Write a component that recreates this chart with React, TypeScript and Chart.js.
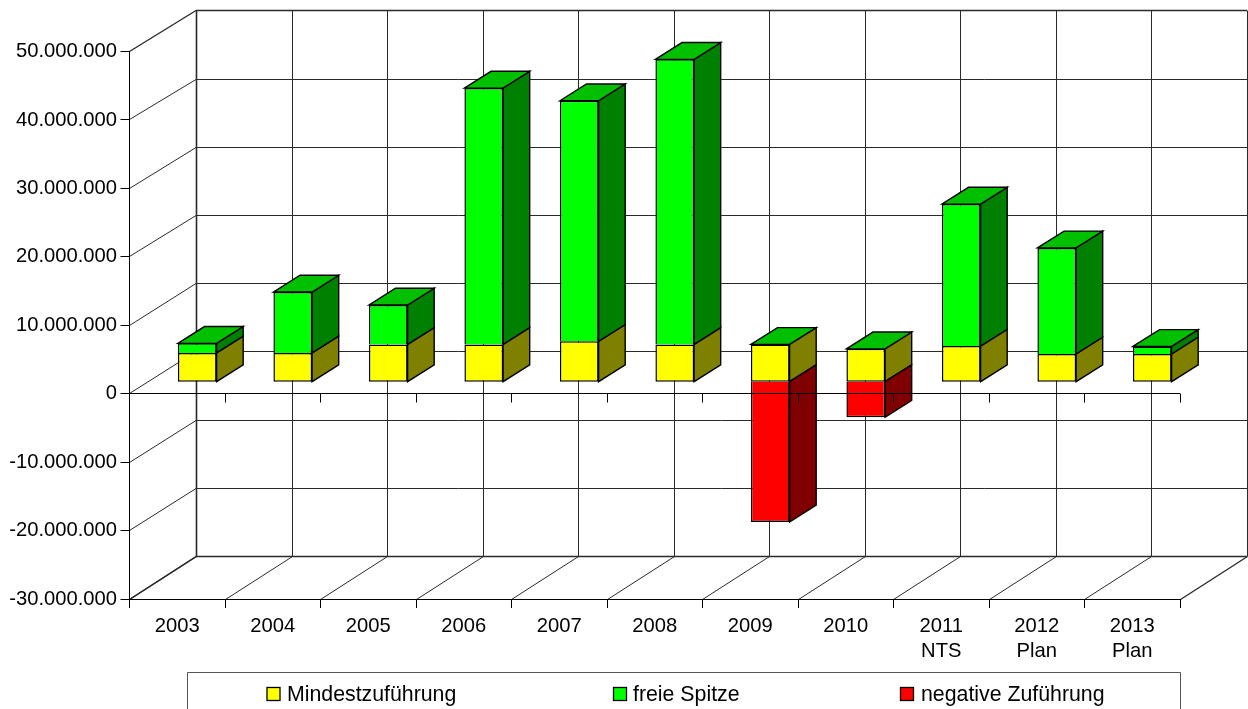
import React, { useEffect, useRef } from "react";
import { Chart, registerables } from "chart.js";

Chart.register(...registerables);

const categories: (string | string[])[] = [
  "2003", "2004", "2005", "2006", "2007", "2008", "2009", "2010",
  ["2011", "NTS"], ["2012", "Plan"], ["2013", "Plan"],
];
const mindestzufuehrung = [4.2e6, 4.2e6, 5.45e6, 5.45e6, 5.9e6, 5.45e6, 5.45e6, 4.8e6, 5.2e6, 4.05e6, 4.05e6];
const freieSpitze = [1.4e6, 8.9e6, 5.75e6, 37.45e6, 35.15e6, 41.65e6, null, null, 20.75e6, 15.5e6, 1.1e6];
const negativeZufuehrung = [null, null, null, null, null, null, -20.5e6, -5.2e6, null, null, null];
const seriesNames = ["Mindestzuführung", "freie Spitze", "negative Zuführung"];
const frontColors = ["#ffff00", "#00ff00", "#ff0000"];
const sideColors = ["#808000", "#008000", "#800000"];
const topColor = "#00c000";
const yTicks = { min: -30000000, max: 50000000, step: 10000000 };

const FONT = '"Liberation Sans", Arial, sans-serif';
const WALL_DX = 66.5;
const BAR_OX = 20;
const BAR_OY = 12;
const BAR_DX = 26.6;
const BAR_DY = 16.8;
const BAR_BORDERS = [
  { top: 1.5, left: 1.5, right: 1.5, bottom: 1.5 },
  { top: 1.5, left: 1.5, right: 1.5, bottom: 0 },
  { top: 0, left: 1.5, right: 1.5, bottom: 1.5 },
];
const LEGEND_ITEMS = [
  { square: 267, text: 287 },
  { square: 613.5, text: 633 },
  { square: 900.5, text: 921 },
];

const fmt = (v: number) => {
  const s = Math.abs(v).toString().replace(/\B(?=(\d{3})+(?!\d))/g, ".");
  return (v < 0 ? "-" : "") + s;
};
const snap = (v: number) => Math.round(v - 0.5) + 0.5;

function line(ctx: CanvasRenderingContext2D, x1: number, y1: number, x2: number, y2: number, w = 1) {
  ctx.lineWidth = w;
  ctx.beginPath();
  ctx.moveTo(x1, y1);
  ctx.lineTo(x2, y2);
  ctx.stroke();
}
function poly(ctx: CanvasRenderingContext2D, pts: number[][], fill: string) {
  ctx.beginPath();
  pts.forEach((p, i) => (i ? ctx.lineTo(p[0], p[1]) : ctx.moveTo(p[0], p[1])));
  ctx.closePath();
  ctx.fillStyle = fill;
  ctx.fill();
  ctx.strokeStyle = "#000";
  ctx.lineWidth = 1.4;
  ctx.stroke();
}

const box3d = {
  id: "box3d",
  beforeDraw(chart: any) {
    const { ctx } = chart;
    const x = chart.scales.x;
    const y = chart.scales.y;
    const left = snap(x.left);
    const right = snap(x.right);
    const bottom = snap(y.bottom);
    const n = categories.length;
    const backY = (py: number) => snap(py - 40.7 - (1.9 * (py - y.top)) / (y.bottom - y.top));
    const backTop = backY(y.top);
    const backBottom = backY(y.bottom);
    ctx.save();
    ctx.strokeStyle = "#2a2a2a";
    for (let v = yTicks.min; v <= yTicks.max; v += yTicks.step) {
      const py = snap(y.getPixelForValue(v));
      const by = backY(y.getPixelForValue(v));
      const edge = v === yTicks.min || v === yTicks.max;
      line(ctx, left, py, left + WALL_DX, by, edge ? 1.4 : 1);
      line(ctx, left + WALL_DX, by, right + WALL_DX, by, edge ? 1.6 : 1);
    }
    for (let i = 0; i <= n; i++) {
      const fx = snap(x.left + (i * (x.right - x.left)) / n);
      const bx = snap(fx + WALL_DX);
      line(ctx, fx, bottom, bx, backBottom, i === 0 || i === n ? 1.4 : 1);
      line(ctx, bx, backTop, bx, backBottom, i === 0 ? 1.6 : 1);
    }
    ctx.restore();
  },
  beforeDatasetsDraw(chart: any) {
    const { ctx } = chart;
    ctx.save();
    const tops: Record<number, any> = {};
    chart.data.datasets.forEach((ds: any, di: number) => {
      chart.getDatasetMeta(di).data.forEach((el: any, i: number) => {
        if (ds.data[i] == null) return;
        const { x, y, base, width } = el.getProps(["x", "y", "base", "width"], true);
        const r = x + width / 2 + BAR_OX;
        const t = Math.min(y, base) - BAR_OY;
        const b = Math.max(y, base) - BAR_OY;
        poly(ctx, [[r, t], [r + BAR_DX, t - BAR_DY], [r + BAR_DX, b - BAR_DY], [r, b]], sideColors[di]);
        if (!tops[i] || t < tops[i].t) tops[i] = { l: r - width, r, t };
      });
    });
    Object.values(tops).forEach((f: any) => {
      poly(ctx, [[f.l, f.t], [f.l + BAR_DX, f.t - BAR_DY], [f.r + BAR_DX, f.t - BAR_DY], [f.r, f.t]], topColor);
    });
    ctx.restore();
  },
  beforeDatasetDraw(chart: any) {
    chart.ctx.save();
    chart.ctx.translate(BAR_OX, -BAR_OY);
  },
  afterDatasetDraw(chart: any) {
    chart.ctx.restore();
  },
  afterDatasetsDraw(chart: any) {
    const { ctx } = chart;
    const x = chart.scales.x;
    const y = chart.scales.y;
    const y0 = snap(y.getPixelForValue(0));
    const n = categories.length;
    ctx.save();
    ctx.strokeStyle = "#000";
    line(ctx, x.left - 9, y0, x.right, y0, 1.2);
    for (let i = 0; i <= n; i++) {
      const fx = snap(x.left + (i * (x.right - x.left)) / n);
      line(ctx, fx, y0, fx, y0 + 9);
    }
    ctx.restore();
  },
  afterDraw(chart: any) {
    const { ctx } = chart;
    ctx.save();
    ctx.strokeStyle = "#555";
    ctx.lineWidth = 1;
    ctx.beginPath();
    ctx.moveTo(187.5, 709);
    ctx.lineTo(187.5, 672.5);
    ctx.lineTo(1180.5, 672.5);
    ctx.lineTo(1180.5, 709);
    ctx.stroke();
    ctx.font = `21.3px ${FONT}`;
    ctx.textBaseline = "alphabetic";
    chart.data.datasets.forEach((ds: any, i: number) => {
      const it = LEGEND_ITEMS[i];
      ctx.fillStyle = frontColors[i];
      ctx.fillRect(it.square, 687.5, 13, 13);
      ctx.strokeStyle = "#000";
      ctx.lineWidth = 1.3;
      ctx.strokeRect(it.square, 687.5, 13, 13);
      ctx.fillStyle = "#000";
      ctx.fillText(ds.label, it.text, 701);
    });
    ctx.restore();
  },
};

export default function App() {
  const ref = useRef<HTMLCanvasElement>(null);
  useEffect(() => {
    const chart = new Chart(ref.current as HTMLCanvasElement, {
      type: "bar",
      data: {
        labels: categories as any,
        datasets: [mindestzufuehrung, freieSpitze, negativeZufuehrung].map((data, i) => ({
          label: seriesNames[i],
          data,
          backgroundColor: frontColors[i],
          borderColor: "#000",
          borderWidth: BAR_BORDERS[i],
          borderSkipped: false,
          barPercentage: 0.405,
          categoryPercentage: 1,
          clip: false as any,
        })),
      },
      options: {
        responsive: false,
        animation: false,
        devicePixelRatio: 1,
        layout: { padding: { left: 0, right: 68, top: 51.5, bottom: 0 } },
        plugins: { legend: { display: false }, title: { display: false }, tooltip: { enabled: false } },
        scales: {
          x: {
            stacked: true,
            afterFit: (s: any) => { s.height = 110; },
            border: { display: true, color: "#000", width: 1 },
            grid: { drawOnChartArea: false, drawTicks: true, tickLength: 9, color: "#000", offset: true },
            ticks: {
              color: "#000", maxRotation: 0, autoSkip: false, padding: 6,
              font: { family: FONT, size: 20.2, lineHeight: 1.25 },
            },
          },
          y: {
            stacked: true,
            min: yTicks.min,
            max: yTicks.max,
            afterFit: (s: any) => { s.width = 129.5; },
            border: { display: true, color: "#000", width: 1 },
            grid: {
              drawOnChartArea: false, drawTicks: true, tickLength: 9, color: "#000",
              lineWidth: (c: any) => (c.tick && c.tick.value === 0 ? 0 : 1),
            },
            ticks: {
              stepSize: yTicks.step, color: "#000", padding: 3.5,
              font: { family: FONT, size: 20.2 },
              callback: (v: any) => fmt(Number(v)),
            },
          },
        },
      },
      plugins: [box3d],
    } as any);
    return () => chart.destroy();
  }, []);
  return (
    <div style={{ position: "fixed", left: 0, top: 0, width: 1248, height: 709, background: "#fff" }}>
      <canvas ref={ref} width={1248} height={709} style={{ display: "block" }} />
    </div>
  );
}
